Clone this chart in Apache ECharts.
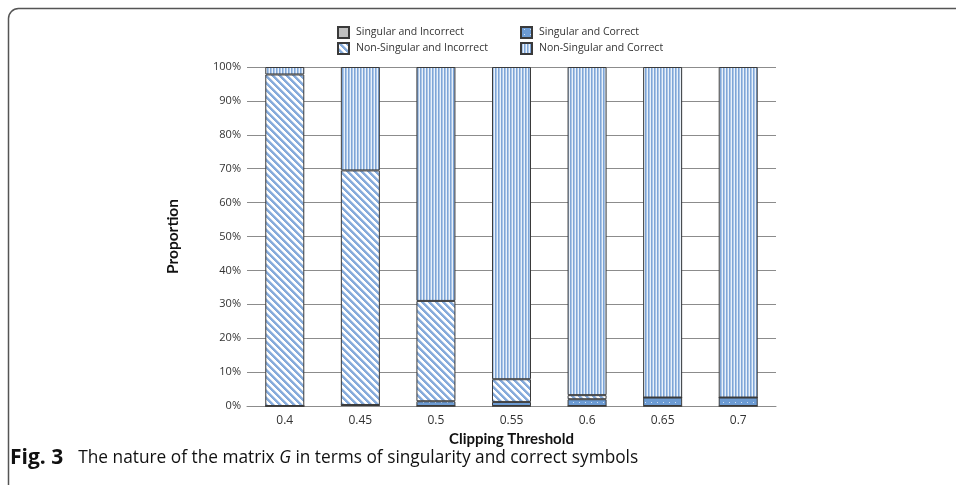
<!DOCTYPE html>
<html><head><meta charset="utf-8">
<script src="https://cdn.jsdelivr.net/npm/echarts@6/dist/echarts.min.js"></script>
<style>html,body{margin:0;padding:0;background:#fff}#c{width:956px;height:485px}</style>
</head><body><div id="c"></div>
<script>
const categories = ['0.4','0.45','0.5','0.55','0.6','0.65','0.7'];
const singularIncorrect = [0, 0.3, 0, 0, 0, 0, 0];
const singularCorrect = [0, 0, 1.4, 1.2, 2.0, 2.5, 2.5];
const nonSingularIncorrect = [97.8, 69.2, 29.6, 6.7, 1.2, 0, 0];
const nonSingularCorrect = [2.2, 30.5, 69.0, 92.1, 96.8, 97.5, 97.5];
const yTicks = [0,10,20,30,40,50,60,70,80,90,100];

function pattern(w, h, colorAt) {
  const c = document.createElement('canvas');
  c.width = w; c.height = h;
  const ctx = c.getContext('2d');
  for (let x=0;x<w;x++) for (let y=0;y<h;y++) { ctx.fillStyle = colorAt(x,y); ctx.fillRect(x,y,1,1); }
  return {image: c, repeat: 'repeat'};
}
const diagPat = pattern(7,7,(x,y)=>{const d=((x-y+14)%7); return d<3?'#86abdb':(d===3?'#c3d6ee':'#ffffff');});
const vertPat = pattern(3,1,(x,y)=>['#7ea5d7','#abc6e7','#e9f1fa'][x]);
const dotPat = pattern(6,5,(x,y)=>(x===3&&y===2)?'#cfe0f4':'#6c9bd3');

const chart = echarts.init(document.getElementById('c'));
const txt = '#333';
const font = '"Open Sans", sans-serif';
const nameFont = 'Lato, "Open Sans", sans-serif';
function bar(name, data, color) {
  return {name, type:'bar', stack:'a', data, barWidth:39,
    itemStyle:{color, borderColor:'#3a3a3a', borderWidth:1},
    emphasis:{disabled:true}};
}
const legendCommon = {orient:'vertical', top:21, itemWidth:11, itemHeight:11, itemGap:3,
  icon:'rect', selectedMode:false,
  textStyle:{fontSize:10.5, color:txt, fontFamily:font, padding:[0,0,0,2]}};
chart.setOption({
  animation:false,
  textStyle:{fontFamily:font},
  grid:{left:247, right:180, top:67, bottom:79},
  legend:[
    Object.assign({left:332, data:['Singular and Incorrect','Non-Singular and Incorrect']}, legendCommon),
    Object.assign({left:515, data:['Singular and Correct','Non-Singular and Correct']}, legendCommon)
  ],
  xAxis:{type:'category', data:categories,
    axisLine:{lineStyle:{color:'#8c8c8c'}}, axisTick:{show:false},
    axisLabel:{color:txt, fontSize:12, margin:9},
    name:'Clipping Threshold', nameLocation:'middle', nameGap:24,
    nameTextStyle:{fontWeight:'bold', fontSize:15, color:'#111', fontFamily:nameFont}},
  yAxis:{type:'value', min:0, max:100, interval:10,
    axisLabel:{formatter:v=>yTicks.includes(v)?v+'%':'', color:txt, fontSize:11, margin:6},
    splitLine:{lineStyle:{color:'#8c8c8c', width:1}},
    axisLine:{show:false}, axisTick:{show:false},
    name:'Proportion', nameLocation:'middle', nameGap:66,
    nameTextStyle:{fontWeight:'bold', fontSize:15.5, color:'#111', fontFamily:nameFont}},
  series:[
    bar('Singular and Incorrect', singularIncorrect, '#c0c0c0'),
    bar('Singular and Correct', singularCorrect, dotPat),
    bar('Non-Singular and Incorrect', nonSingularIncorrect, diagPat),
    bar('Non-Singular and Correct', nonSingularCorrect, vertPat)
  ],
  graphic:[
    {type:'rect', shape:{x:8.5, y:8.5, width:1200, height:1200, r:10},
     style:{fill:null, stroke:'#555', lineWidth:1.5}, silent:true},
    {type:'text', left:10, top:448,
     style:{text:'{b|Fig. 3}The nature of the matrix {i|G} in terms of singularity and correct symbols',
       rich:{b:{fontWeight:'bold', fontSize:21, fontFamily:font, fill:'#111', padding:[0,15,0,0]},
             i:{fontStyle:'italic', fontSize:17.3, fontFamily:font, fill:'#111'}},
       fontSize:17.3, fontFamily:font, fill:'#111'}}
  ]
});
</script></body></html>
